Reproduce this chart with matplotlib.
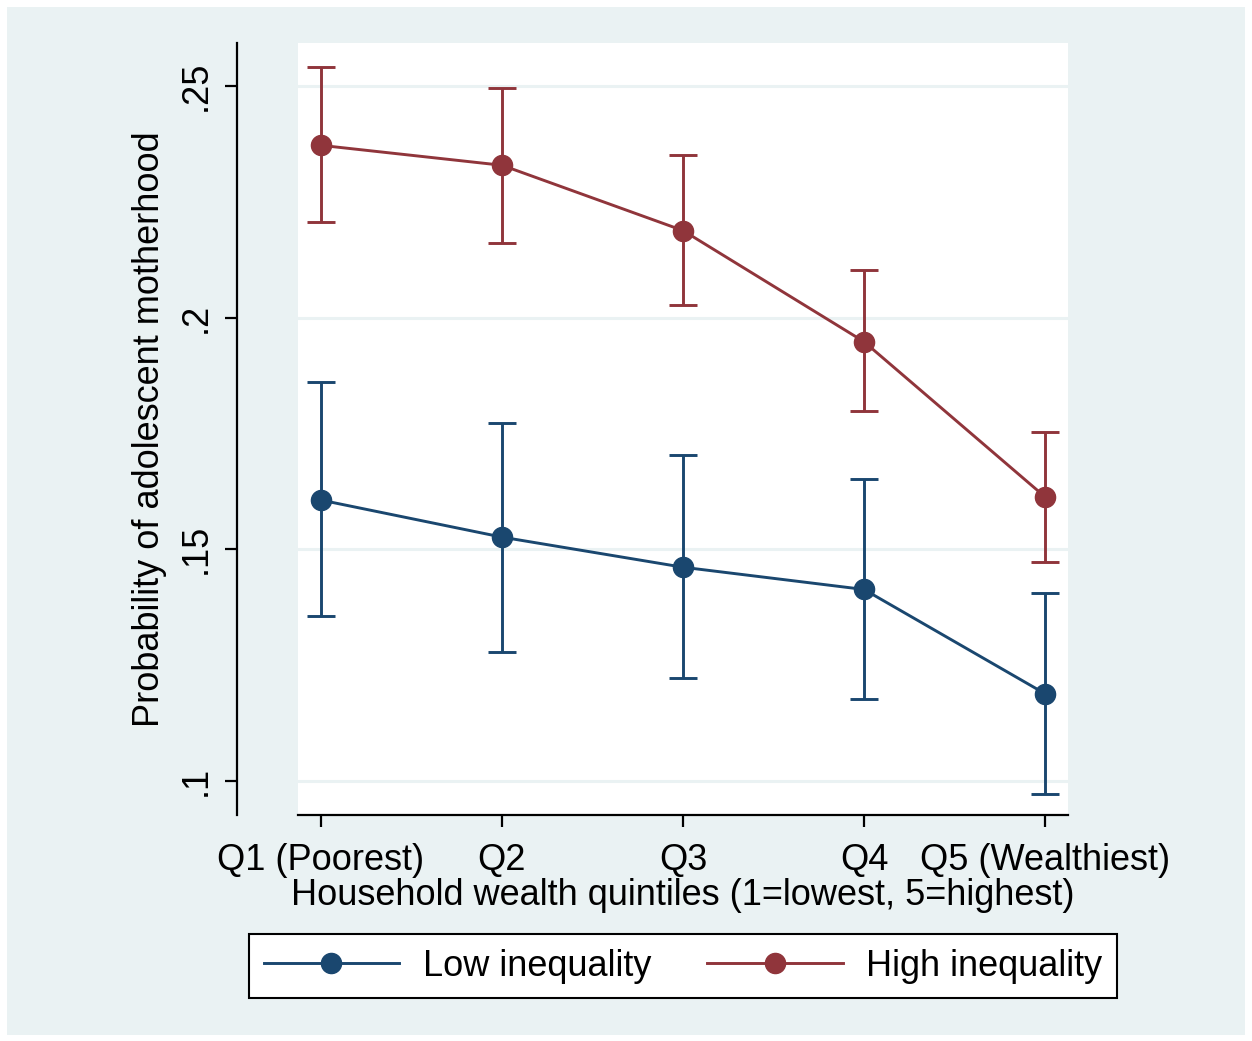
import numpy as np
import matplotlib.pyplot as plt
from matplotlib.patches import Rectangle

plt.rcParams['font.family'] = ['Liberation Sans', 'DejaVu Sans']

quintiles = [1, 2, 3, 4, 5]
xlabels = ["Q1 (Poorest)", "Q2", "Q3", "Q4", "Q5 (Wealthiest)"]

low_mean = [0.1606, 0.1526, 0.1461, 0.1413, 0.1188]
low_hi = [0.1861, 0.1773, 0.1703, 0.1652, 0.1405]
low_lo = [0.1355, 0.1279, 0.1221, 0.1177, 0.0972]

high_mean = [0.2372, 0.2329, 0.2188, 0.1948, 0.1613]
high_hi = [0.2541, 0.2496, 0.2351, 0.2102, 0.1753]
high_lo = [0.2206, 0.2162, 0.2028, 0.1799, 0.1472]

yticks = [0.1, 0.15, 0.2, 0.25]
ytick_labels = [".1", ".15", ".2", ".25"]

navy = "#1a476f"
maroon = "#90353b"
bg = "#eaf2f3"

W, H = 1252, 1041
fig = plt.figure(figsize=(W / 100, H / 100), dpi=100, facecolor="white")
fig.patches.append(Rectangle((7 / W, 6 / H), 1238 / W, 1028 / H,
                             transform=fig.transFigure, facecolor=bg,
                             edgecolor="none", zorder=-10))

ax = fig.add_axes([298 / W, (H - 815) / H, 770 / W, 772 / H])
ax.set_facecolor("white")

def draw(mean, lo, hi, col, label):
    m = np.array(mean)
    err = np.array([m - np.array(lo), np.array(hi) - m])
    ax.errorbar(quintiles, m, yerr=err, fmt="none", ecolor=col,
                elinewidth=2.1, capsize=10, capthick=2.1, zorder=3)
    ax.plot(quintiles, m, color=col, lw=2.1, marker="o", ms=14.5,
            label=label, zorder=4)

draw(low_mean, low_lo, low_hi, navy, "Low inequality")
draw(high_mean, high_lo, high_hi, maroon, "High inequality")

ax.set_xlim(0.873, 5.127)
ax.set_ylim(0.0926, 0.2593)
ax.set_yticks(yticks)
ax.set_yticklabels(ytick_labels)
ax.set_xticks(quintiles)
ax.set_xticklabels(xlabels)
for y in yticks:
    ax.axhline(y, color=bg, lw=2.2, zorder=1)

for s in ["top", "right"]:
    ax.spines[s].set_visible(False)
ax.spines["left"].set_position(("outward", 61 * 0.72))
ax.spines["left"].set_linewidth(1.6)
ax.spines["bottom"].set_linewidth(1.6)
ax.tick_params(axis="both", labelsize=26, length=8.5, width=1.6)
ax.tick_params(axis="x", pad=12)
ax.tick_params(axis="y", pad=8, labelrotation=90)
for t in ax.get_yticklabels():
    t.set_va("center")

ax.set_xlabel("Household wealth quintiles (1=lowest, 5=highest)",
              fontsize=26, labelpad=0)
ax.set_ylabel("Probability of adolescent motherhood", fontsize=26,
              labelpad=9)

leg = fig.legend(loc="center", bbox_to_anchor=(683 / W, 1 - 966 / H),
                 ncol=2, fontsize=26, frameon=True, fancybox=False,
                 edgecolor="black", facecolor="white", framealpha=1,
                 handlelength=3.75, handletextpad=0.65,
                 columnspacing=1.55, borderpad=0.4, numpoints=1)
leg.get_frame().set_linewidth(1.5)

fig.savefig("out.png", dpi=100, facecolor="white")
